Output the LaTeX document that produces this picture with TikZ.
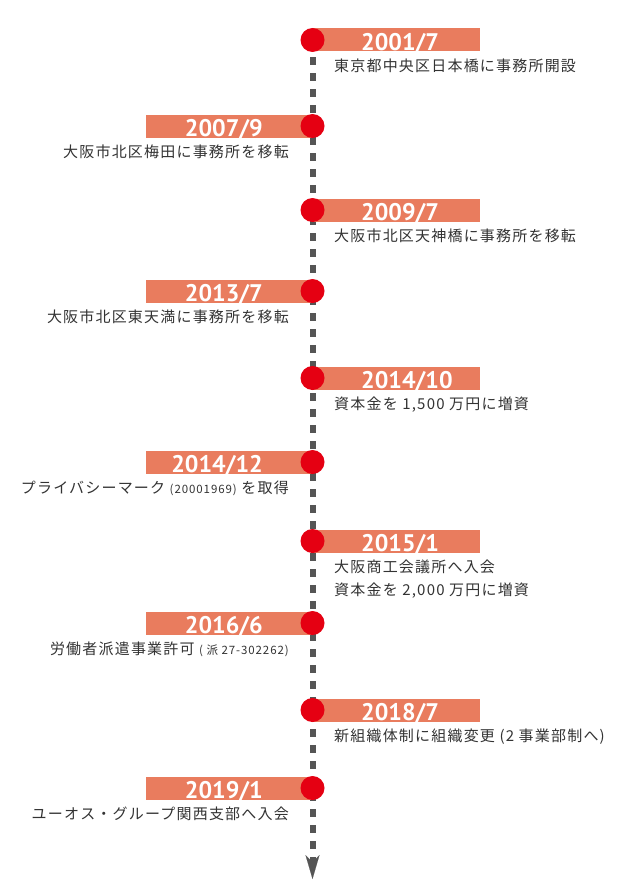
\documentclass[tikz,border=0pt]{standalone}
\usepackage{fontspec}
\newfontfamily\jpfont[LetterSpace=8]{Noto Sans CJK JP}
\newfontfamily\yearfont{PT Sans}
\usetikzlibrary{arrows.meta}
\definecolor{barcol}{HTML}{E97C5E}
\definecolor{dotcol}{HTML}{E50012}
\definecolor{linecol}{HTML}{555555}
\definecolor{txtcol}{HTML}{333333}
\pgfdeclarelayer{bg}
\pgfsetlayers{bg,main}
\newcommand{\smalltxt}[1]{{\fontsize{11.5}{11.5}\selectfont #1}}
\begin{document}
\begin{tikzpicture}[x=1pt,y=-1pt,
  barR/.style={rectangle,fill=barcol,draw=none,anchor=west,minimum width=167pt,minimum height=23pt,inner sep=0pt},
  barL/.style={rectangle,fill=barcol,draw=none,anchor=east,minimum width=166pt,minimum height=23pt,inner sep=0pt},
  dotn/.style={circle,fill=dotcol,draw=none,minimum size=24pt,inner sep=0pt},
  yr/.style={text=white,font=\yearfont\bfseries\fontsize{24}{24}\selectfont,inner sep=0pt},
  desc/.style={text=txtcol,font=\jpfont\fontsize{15}{23}\selectfont,inner sep=0pt},
  timeline/.style={line width=6pt,draw=linecol,dash pattern=on 7.5pt off 8.5pt,dash phase=14.7pt}]
\useasboundingbox (0,0) rectangle (629,891);
\coordinate (tip) at (312.5,879);
\def\ya{40}\def\yb{126}\def\yc{210}\def\yd{291}\def\ye{378}
\def\yf{462}\def\yg{541}\def\yh{623}\def\yi{710}\def\yj{788}
% bars
\node[barR] (b1) at (312.5,\ya) {};
\node[barL] (b2) at (312.5,\yb) {};
\node[barR] (b3) at (312.5,\yc) {};
\node[barL] (b4) at (312.5,\yd) {};
\node[barR] (b5) at (312.5,\ye) {};
\node[barL] (b6) at (312.5,\yf) {};
\node[barR] (b7) at (312.5,\yg) {};
\node[barL] (b8) at (312.5,\yh) {};
\node[barR] (b9) at (312.5,\yi) {};
\node[barL] (b10) at (312.5,\yj) {};
% dots
\node[dotn] (d1) at (312.5,\ya) {};
\node[dotn] (d2) at (312.5,\yb) {};
\node[dotn] (d3) at (312.5,\yc) {};
\node[dotn] (d4) at (312.5,\yd) {};
\node[dotn] (d5) at (312.5,\ye) {};
\node[dotn] (d6) at (312.5,\yf) {};
\node[dotn] (d7) at (312.5,\yg) {};
\node[dotn] (d8) at (312.5,\yh) {};
\node[dotn] (d9) at (312.5,\yi) {};
\node[dotn] (d10) at (312.5,\yj) {};
% timeline behind
\begin{pgfonlayer}{bg}
\draw[timeline,-{Stealth[length=24pt,width=14pt,inset=7pt,line width=0.1pt]}] (d1.center) -- (tip);
\end{pgfonlayer}
% years
\node[yr,anchor=base west] (y1) at (361,\ya+10.3) {2001/7};
\node[yr,anchor=base east] (y2) at (263,\yb+10.3) {2007/9};
\node[yr,anchor=base west] (y3) at (361,\yc+10.3) {2009/7};
\node[yr,anchor=base east] (y4) at (263,\yd+10.3) {2013/7};
\node[yr,anchor=base west] (y5) at (361,\ye+10.3) {2014/10};
\node[yr,anchor=base east] (y6) at (263,\yf+10.3) {2014/12};
\node[yr,anchor=base west] (y7) at (361,\yg+10.3) {2015/1};
\node[yr,anchor=base east] (y8) at (263,\yh+10.3) {2016/6};
\node[yr,anchor=base west] (y9) at (361,\yi+10.3) {2018/7};
\node[yr,anchor=base east] (y10) at (263,\yj+10.3) {2019/1};
% descriptions
\node[desc,anchor=base west] (t1) at (334,\ya+31.5) {東京都中央区日本橋に事務所開設};
\node[desc,anchor=base east] (t2) at (289,\yb+31.5) {大阪市北区梅田に事務所を移転};
\node[desc,anchor=base west] (t3) at (334,\yc+31.5) {大阪市北区天神橋に事務所を移転};
\node[desc,anchor=base east] (t4) at (289,\yd+31.5) {大阪市北区東天満に事務所を移転};
\node[desc,anchor=base west] (t5) at (334,\ye+31.5) {資本金を 1,500 万円に増資};
\node[desc,anchor=base east] (t6) at (289,\yf+31.5) {プライバシーマーク \smalltxt{(20001969)} を取得};
\node[desc,anchor=base west] (t7a) at (334,\yg+31.5) {大阪商工会議所へ入会};
\node[desc,anchor=base west] (t7b) at (334,\yg+54.5) {資本金を 2,000 万円に増資};
\node[desc,anchor=base east] (t8) at (289,\yh+31.5) {労働者派遣事業許可 \smalltxt{( 派 27-302262)}};
\node[desc,anchor=base west] (t9) at (334,\yi+31.5) {新組織体制に組織変更 (2 事業部制へ)};
\node[desc,anchor=base east] (t10) at (289,\yj+31.5) {ユーオス・グループ関西支部へ入会};
\end{tikzpicture}
\end{document}
